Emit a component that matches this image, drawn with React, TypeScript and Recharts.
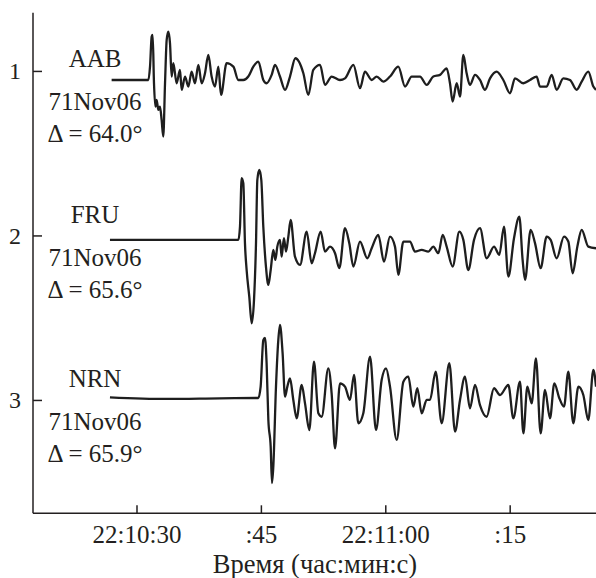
import React from "react";
import { LineChart, Line, XAxis, YAxis, ReferenceDot, Label } from "recharts";

// time axis: seconds after 22:10:00
const timeTicks = [30, 45, 60, 75];
const timeTickLabels = ["22:10:30", ":45", "22:11:00", ":15"];
const stationTicks = [1, 2, 3];
const stationNames = ["AAB", "FRU", "NRN"];
const eventDates = ["71Nov06", "71Nov06", "71Nov06"];
const distances = ["64.0", "65.6", "65.9"];

// [time s, trace position]
const aabTrace: [number, number][] = [
  [26.94, 1.052], [31.37, 1.052], [31.57, 0.971], [31.77, 0.788], [31.89, 0.778],
  [32.05, 1.072], [32.21, 1.214], [32.37, 1.173], [32.57, 1.234], [32.77, 1.214],
  [32.97, 1.295], [33.17, 1.396], [33.38, 1.072], [33.58, 0.808], [33.78, 0.758],
  [33.98, 0.829], [34.18, 1.031], [34.38, 0.95], [34.78, 1.072], [35.18, 0.991],
  [35.39, 1.112], [35.79, 1.031], [36.19, 1.092], [36.59, 1.001], [36.99, 1.072],
  [37.4, 0.96], [37.8, 1.072], [38.2, 1.011], [38.6, 0.9], [39.0, 1.031],
  [39.4, 1.092], [39.81, 0.971], [40.13, 1.143], [40.81, 0.95], [41.62, 0.971],
  [42.22, 1.052], [42.82, 1.052], [43.42, 1.031], [44.03, 0.971], [44.63, 0.94],
  [45.23, 1.052], [45.63, 1.072], [46.24, 1.021], [46.64, 0.96], [47.24, 1.031],
  [47.85, 1.112], [48.45, 1.031], [49.1, 0.92], [50.06, 1.011], [50.66, 1.143],
  [51.26, 0.991], [52.07, 0.96], [52.67, 1.082], [53.47, 1.031], [54.48, 1.052],
  [55.08, 1.042], [56.09, 0.96], [56.89, 1.102], [57.49, 1.001], [58.3, 1.052],
  [58.9, 1.031], [59.7, 1.062], [60.51, 1.031], [61.51, 0.971], [62.32, 1.092],
  [63.12, 1.031], [64.13, 1.031], [64.93, 1.082], [65.73, 1.031], [66.54, 1.021],
  [67.34, 0.981], [67.74, 1.072], [68.06, 1.183], [68.55, 1.072], [68.95, 1.153],
  [69.35, 0.9], [69.75, 1.011], [70.15, 1.082], [70.76, 1.021], [71.36, 1.052],
  [71.96, 1.112], [72.57, 1.042], [73.37, 1.001], [74.17, 1.052], [74.98, 1.133],
  [75.58, 1.042], [76.59, 1.072], [77.39, 1.052], [78.19, 1.031], [78.59, 1.092],
  [79.4, 1.092], [80.0, 1.021], [80.6, 1.112], [81.41, 1.042], [82.21, 1.052],
  [83.02, 1.112], [83.62, 1.062], [84.42, 1.001], [85.03, 1.092], [85.35, 1.112],
];

const fruTrace: [number, number][] = [
  [26.74, 2.024], [42.22, 2.024], [42.42, 1.943], [42.62, 1.649], [42.82, 1.68],
  [43.02, 2.045], [43.22, 2.207], [43.54, 2.369], [43.83, 2.531], [44.11, 2.389],
  [44.35, 2.045], [44.51, 1.66], [44.75, 1.599], [44.99, 1.66], [45.23, 1.943],
  [45.55, 2.186], [45.84, 2.298], [46.12, 2.207], [46.44, 2.085], [46.68, 2.146],
  [46.92, 2.065], [47.24, 2.024], [47.44, 2.126], [47.72, 2.014], [47.97, 2.095],
  [48.25, 2.004], [48.53, 1.903], [49.05, 2.126], [49.66, 2.176], [50.46, 1.974],
  [51.06, 2.166], [51.46, 2.105], [52.15, 1.974], [52.67, 2.095], [53.27, 2.065],
  [53.88, 2.105], [54.4, 2.196], [55.08, 1.953], [55.6, 2.045], [56.09, 2.186],
  [56.89, 2.034], [57.77, 2.136], [58.3, 2.075], [59.1, 1.994], [59.78, 2.156],
  [60.51, 2.004], [61.11, 2.065], [61.51, 2.237], [62.12, 2.034], [62.92, 2.034],
  [63.52, 2.095], [64.33, 2.085], [65.13, 2.095], [65.73, 2.065], [66.34, 2.105],
  [66.86, 1.994], [67.34, 2.065], [68.06, 2.186], [68.87, 1.974], [69.35, 2.024],
  [69.95, 2.207], [70.64, 2.024], [71.36, 1.953], [72.16, 2.136], [73.05, 2.065],
  [73.69, 2.115], [74.25, 1.943], [74.78, 2.247], [75.46, 2.014], [76.1, 1.882],
  [76.5, 2.146], [76.79, 2.267], [77.47, 1.963], [78.0, 2.045], [78.67, 2.196],
  [79.4, 2.004], [79.88, 2.024], [80.6, 2.136], [81.49, 2.004], [82.01, 2.034],
  [82.53, 2.227], [83.1, 2.065], [83.62, 1.963], [84.42, 2.065], [85.35, 2.075],
];

const nrnTrace: [number, number][] = [
  [26.74, 2.981], [33.5, 2.991], [40.0, 2.987], [44.63, 2.985], [44.91, 2.916],
  [45.23, 2.633], [45.43, 2.62], [45.63, 2.774], [45.84, 3.119], [46.12, 3.281],
  [46.28, 3.502], [46.44, 3.4], [46.76, 2.916], [47.04, 2.633], [47.24, 2.541],
  [47.56, 2.714], [47.85, 2.977], [48.13, 2.916], [48.45, 2.866], [48.85, 2.997],
  [49.25, 3.109], [49.86, 2.906], [50.26, 3.018], [50.78, 3.18], [51.34, 2.764],
  [51.87, 3.078], [52.27, 3.099], [53.07, 2.805], [53.47, 2.957], [53.88, 3.291],
  [54.48, 2.896], [55.08, 2.916], [55.68, 2.997], [56.17, 2.845], [56.69, 3.139],
  [57.29, 3.078], [58.1, 2.734], [58.82, 3.18], [59.5, 2.876], [60.03, 2.805],
  [60.51, 2.916], [61.31, 3.24], [62.12, 2.886], [62.72, 2.855], [63.32, 3.038],
  [63.8, 2.926], [64.33, 3.078], [64.93, 2.997], [65.33, 2.997], [66.01, 2.825],
  [66.74, 3.139], [67.66, 2.774], [68.35, 3.19], [68.95, 2.997], [69.55, 2.855],
  [70.15, 3.048], [70.76, 2.906], [71.36, 3.028], [72.16, 3.099], [73.05, 2.926],
  [73.77, 2.967], [74.78, 2.906], [75.38, 3.109], [76.18, 2.886], [76.59, 3.2],
  [77.07, 2.916], [77.59, 3.018], [78.11, 2.744], [78.67, 3.2], [79.2, 2.936],
  [79.8, 3.109], [80.32, 2.896], [80.93, 2.987], [81.49, 3.038], [82.01, 2.825],
  [82.61, 3.139], [83.22, 2.916], [83.82, 2.967], [84.42, 3.119], [85.03, 2.815],
  [85.35, 2.916],
];

const traces = [aabTrace, fruTrace, nrnTrace];

// where the station notes sit (time, trace position of the name line)
const noteTime = 24.94;
const noteAnchors = [0.973, 1.921, 2.918];

const X_DOMAIN: [number, number] = [17.46, 85.71];
const Y_DOMAIN: [number, number] = [0.643, 3.686];
const FONT = '"Liberation Serif", "Times New Roman", "DejaVu Serif", serif';
const INK = "#231f20";

const toRows = (trace: [number, number][]) => trace.map(([t, v]) => ({ t, v }));

function TimeTick(props: any) {
  const { x, y, payload } = props;
  const i = timeTicks.indexOf(payload.value);
  return (
    <g>
      <line x1={x} x2={x} y1={y} y2={y - 8} stroke={INK} strokeWidth={1.5} />
      <text x={x} y={y + 30} textAnchor="middle" style={{ fontSize: 25, fontFamily: FONT }} fill={INK}>
        {timeTickLabels[i]}
      </text>
    </g>
  );
}

function StationTick(props: any) {
  const { x, y, payload } = props;
  return (
    <g>
      <line x1={x} x2={x + 9} y1={y} y2={y} stroke={INK} strokeWidth={1.5} />
      <text x={x - 12} y={y + 8} textAnchor="end" style={{ fontSize: 24, fontFamily: FONT }} fill={INK}>
        {payload.value}
      </text>
    </g>
  );
}

function StationNote(props: any) {
  const { viewBox, i } = props;
  const cx = viewBox.x + (viewBox.width || 0) / 2;
  const cy = viewBox.y + (viewBox.height || 0) / 2;
  const style = { fontSize: 25, fontFamily: FONT };
  return (
    <g fill={INK}>
      <text x={cx} y={cy} textAnchor="middle" style={style}>{stationNames[i]}</text>
      <text x={cx} y={cy + 43} textAnchor="middle" style={style}>{eventDates[i]}</text>
      <text x={cx} y={cy + 75} textAnchor="middle" style={style}>{`Δ = ${distances[i]}°`}</text>
    </g>
  );
}

function AxisTitle(props: any) {
  const vb = props.viewBox || { x: 33, y: 513, width: 566, height: 65 };
  return (
    <text x={vb.x + vb.width / 2 - 1} y={vb.y + vb.height - 5.5} textAnchor="middle" style={{ fontSize: 26.5, fontFamily: FONT }} fill={INK}>
      Время (час:мин:с)
    </text>
  );
}

export default function App() {
  const axisLine = { stroke: INK, strokeWidth: 1.5 };
  return (
    <div style={{ position: "absolute", left: 0, top: 0, width: 596, height: 578, overflow: "hidden", background: "#fff" }}>
      <style>{`body{margin:0;overflow:hidden}`}</style>
      <LineChart width={600} height={578} margin={{ top: 12.7, right: 1, bottom: 0, left: 0 }}>
        <XAxis
          xAxisId="b"
          type="number"
          dataKey="t"
          domain={X_DOMAIN}
          allowDataOverflow
          ticks={timeTicks}
          interval={0}
          tick={<TimeTick />}
          tickLine={false}
          tickSize={0}
          tickMargin={0}
          height={64.7}
          axisLine={axisLine}
        >
          <Label content={<AxisTitle />} />
        </XAxis>
        <XAxis
          xAxisId="top"
          orientation="top"
          type="number"
          domain={X_DOMAIN}
          allowDataOverflow
          height={0}
          tick={false}
          tickLine={false}
          axisLine={axisLine}
        />
        <YAxis
          type="number"
          domain={Y_DOMAIN}
          reversed
          allowDataOverflow
          ticks={stationTicks}
          interval={0}
          width={33}
          tick={<StationTick />}
          tickLine={false}
          tickSize={0}
          tickMargin={0}
          axisLine={axisLine}
        />
        {traces.map((trace, i) => (
          <Line
            key={stationNames[i]}
            xAxisId="b"
            data={toRows(trace)}
            dataKey="v"
            type="monotoneX"
            stroke="#1e1e1e"
            strokeWidth={2.3}
            strokeLinejoin="round"
            dot={false}
            activeDot={false}
            isAnimationActive={false}
          />
        ))}
        {noteAnchors.map((y, i) => (
          <ReferenceDot
            key={`note-${i}`}
            xAxisId="b"
            x={noteTime}
            y={y}
            r={0}
            fill="none"
            stroke="none"
            label={<StationNote i={i} />}
          />
        ))}
      </LineChart>
    </div>
  );
}
